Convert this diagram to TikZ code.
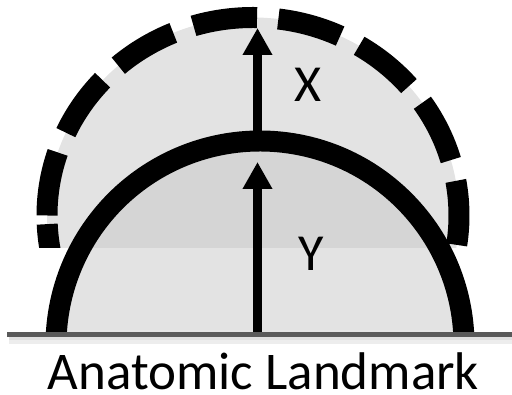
\documentclass[tikz,border=0pt]{standalone}
\usepackage{fontspec}
\setmainfont{Carlito}
\usetikzlibrary{arrows.meta}
\definecolor{lightfill}{HTML}{E3E3E3}
\definecolor{darkfill}{HTML}{D5D5D5}
\definecolor{basegray}{HTML}{595959}
\begin{document}
\begin{tikzpicture}[x=1pt,y=1pt,
  dome/.style={line width=21pt},
  measure/.style={line width=9.5pt, -{Triangle[length=27pt,width=28pt]}},
  lbl/.style={font=\fontsize{52}{60}\selectfont, inner sep=0pt}]
\useasboundingbox (0,0) rectangle (512,395);
% outer fill
\begin{scope}
  \clip (0,147) rectangle (512,395);
  \fill[lightfill] (253,179.5) ellipse [x radius=206, y radius=198];
\end{scope}
% inner fill
\begin{scope}
  \clip (0,60.5) rectangle (512,395);
  \fill[lightfill] (260,50) circle[radius=204];
  \clip (0,147) rectangle (512,395);
  \fill[darkfill] (260,50) circle[radius=204];
\end{scope}
% outer dashed arc
\begin{scope}
  \clip (0,147) rectangle (512,395);
  \draw[dome, dash pattern=on 64.3pt off 21.4pt] (47,179.5) arc[start angle=180, end angle=-20, x radius=206, y radius=198];
  \draw[dome] (253,179.5) ++(182.5:206 and 198) arc[start angle=182.5, end angle=200, x radius=206, y radius=198];
\end{scope}
% inner solid arc
\begin{scope}
  \clip (0,60.5) rectangle (512,395);
  \draw[dome] (260,50) ++(-5:204) arc[start angle=-5, end angle=185, radius=204];
\end{scope}
% arrows
\coordinate (xfoot) at (257.5,262);
\coordinate (xtip) at (257.5,367);
\coordinate (yfoot) at (257.5,58);
\coordinate (ytip) at (257.5,233);
\draw[measure] (xfoot) -- (xtip);
\draw[measure] (yfoot) -- (ytip);
% baseline with shadow
\draw[black!7, line width=7pt] (9,54.5) -- (512,54.5);
\draw[black!12, line width=3pt] (9,56) -- (512,56);
\draw[basegray, line width=5.5pt] (7,60.5) -- (512,60.5);
% labels
\node[lbl] (xlab) at (308,310.5) {X};
\node[lbl] (ylab) at (311,141) {Y};
\node[lbl, font=\fontsize{53}{60}\selectfont, anchor=base] (title) at (263.5,5.5) {Anatomic Landmark};
\end{tikzpicture}
\end{document}
